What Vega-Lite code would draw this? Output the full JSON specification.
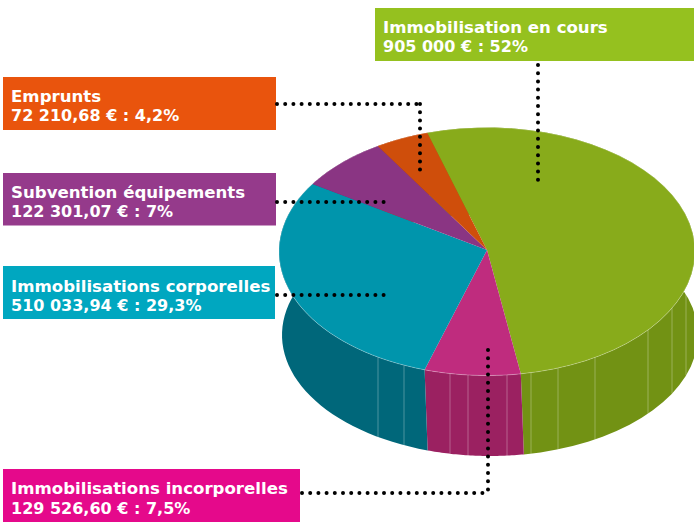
{
"$schema":"https://vega.github.io/schema/vega-lite/v6.json",
"width":694,"height":522,"padding":0,
"autosize":{"type":"fit","contains":"padding"},
"background":"white",
"view":{"stroke":null},
"config":{"text":{"align":"left","baseline":"alphabetic","font":"DejaVu Sans","fontSize":16.6,"fontWeight":700,"color":"white"},"rule":{"color":"black","strokeWidth":4,"strokeCap":"round","strokeDash":[0,8.2]}},
"datasets":{
"slices":[
{"slice":"Immobilisation en cours","order":1,"value":905000,"label":"905 000 € : 52%"},
{"slice":"Immobilisations incorporelles","order":2,"value":129526.60,"label":"129 526,60 € : 7,5%"},
{"slice":"Immobilisations corporelles","order":3,"value":510033.94,"label":"510 033,94 € : 29,3%"},
{"slice":"Subvention équipements","order":4,"value":122301.07,"label":"122 301,07 € : 7%"},
{"slice":"Emprunts","order":5,"value":72210.68,"label":"72 210,68 € : 4,2%"}
],
"seams":[{"seam":378},{"seam":404},{"seam":450},{"seam":468},{"seam":507},{"seam":531},{"seam":558},{"seam":595},{"seam":648},{"seam":672},{"seam":686}]
},
"encoding":{
"x":{"type":"quantitative","scale":{"domain":[0,694],"nice":false,"zero":false},"axis":null},
"y":{"type":"quantitative","scale":{"domain":[522,0],"nice":false,"zero":false},"axis":null}
},
"layer":[
{"data":{"name":"slices"},
 "transform":[
  {"joinaggregate":[{"op":"sum","field":"value","as":"total"}]},
  {"window":[{"op":"sum","field":"value","as":"cum"}],"sort":[{"field":"order","order":"ascending"}]},
  {"calculate":"sequence(-1,82)","as":"k"},
  {"flatten":["k"]},
  {"calculate":"datum.k<=40?datum.k:81-datum.k","as":"j"},
  {"calculate":"(-106.7+360*(datum.cum-datum.value+datum.value*datum.j/40)/datum.total)*PI/180","as":"t"},
  {"calculate":"datum.k<0?487:datum.k<=40?487+208*cos(datum.t):490+208*cos(datum.t)","as":"px"},
  {"calculate":"datum.k<0?250:datum.k<=40?251.5+124*sin(datum.t):335+121*sin(datum.t)","as":"py"}
 ],
 "resolve":{"scale":{"fill":"independent"}},
 "layer":[
  {"transform":[{"filter":"datum.k>=0"}],
   "mark":{"type":"line","strokeWidth":0,"clip":true},
   "encoding":{
    "x":{"field":"px"},"y":{"field":"py"},
    "order":{"field":"k"},
    "fill":{"field":"slice","type":"nominal","legend":null,"scale":{
     "domain":["Immobilisation en cours","Immobilisations incorporelles","Immobilisations corporelles","Subvention équipements","Emprunts"],
     "range":["#729214","#9B2161","#00677A","#6d2a68","#a83f09"]}}
   }},
  {"data":{"name":"seams"},
   "transform":[
    {"calculate":"251.5+124*sqrt(1-pow((datum.seam-487)/208,2))","as":"rimy"},
    {"calculate":"335+121*sqrt(1-pow((datum.seam-490)/208,2))","as":"rimb"}],
   "mark":{"type":"rule","stroke":"white","strokeOpacity":0.3,"strokeWidth":1,"strokeDash":[1,0],"strokeCap":"butt"},
   "encoding":{"x":{"field":"seam"},"y":{"field":"rimy"},"y2":{"field":"rimb"}}},
  {"transform":[{"filter":"datum.k<=40"}],
   "mark":{"type":"line","strokeWidth":0,"clip":true},
   "encoding":{
    "x":{"field":"px"},"y":{"field":"py"},
    "order":{"field":"k"},
    "fill":{"field":"slice","type":"nominal","legend":null,"scale":{
     "domain":["Immobilisation en cours","Immobilisations incorporelles","Immobilisations corporelles","Subvention équipements","Emprunts"],
     "range":["#88AB1B","#BF2C7E","#0095AC","#8A3583","#CF4E0B"]}}
   }},
  {"transform":[{"filter":"datum.k>=0 && datum.k<=40"}],
   "mark":{"type":"line","stroke":"white","strokeOpacity":0.35,"strokeWidth":0.8,"clip":true},
   "encoding":{
    "x":{"field":"px"},"y":{"field":"py"},
    "order":{"field":"k"},
    "detail":{"field":"slice"}
   }}
 ]},
{"data":{"name":"slices"},
 "layer":[
  {"transform":[{"filter":"datum.order==1"}],
   "layer":[
    {"mark":{"type":"rect","color":"#95C11F"},"encoding":{"x":{"datum":375},"x2":{"datum":694},"y":{"datum":8},"y2":{"datum":61}}},
    {"mark":{"type":"text"},"encoding":{"x":{"datum":383},"y":{"datum":33},"text":{"field":"slice"}}},
    {"mark":{"type":"text","fontSize":16},"encoding":{"x":{"datum":383},"y":{"datum":52},"text":{"field":"label"}}},
    {"mark":{"type":"rule"},"encoding":{"x":{"datum":538},"y":{"datum":65},"y2":{"datum":181}}}
   ]},
  {"transform":[{"filter":"datum.order==5"}],
   "layer":[
    {"mark":{"type":"rect","color":"#E9540D"},"encoding":{"x":{"datum":3},"x2":{"datum":276},"y":{"datum":77},"y2":{"datum":130}}},
    {"mark":{"type":"text"},"encoding":{"x":{"datum":11},"y":{"datum":102},"text":{"field":"slice"}}},
    {"mark":{"type":"text","fontSize":16},"encoding":{"x":{"datum":11},"y":{"datum":121},"text":{"field":"label"}}},
    {"mark":{"type":"rule"},"encoding":{"x":{"datum":277},"x2":{"datum":420},"y":{"datum":104}}},
    {"mark":{"type":"rule"},"encoding":{"x":{"datum":420},"y":{"datum":104},"y2":{"datum":170}}}
   ]},
  {"transform":[{"filter":"datum.order==4"}],
   "layer":[
    {"mark":{"type":"rect","color":"#953A8B"},"encoding":{"x":{"datum":3},"x2":{"datum":276},"y":{"datum":173},"y2":{"datum":225.5}}},
    {"mark":{"type":"text"},"encoding":{"x":{"datum":11},"y":{"datum":198},"text":{"field":"slice"}}},
    {"mark":{"type":"text","fontSize":16},"encoding":{"x":{"datum":11},"y":{"datum":217},"text":{"field":"label"}}},
    {"mark":{"type":"rule"},"encoding":{"x":{"datum":277},"x2":{"datum":385},"y":{"datum":202}}}
   ]},
  {"transform":[{"filter":"datum.order==3"}],
   "layer":[
    {"mark":{"type":"rect","color":"#00A7C0"},"encoding":{"x":{"datum":3},"x2":{"datum":275},"y":{"datum":266},"y2":{"datum":319}}},
    {"mark":{"type":"text"},"encoding":{"x":{"datum":11},"y":{"datum":292},"text":{"field":"slice"}}},
    {"mark":{"type":"text","fontSize":16},"encoding":{"x":{"datum":11},"y":{"datum":311},"text":{"field":"label"}}},
    {"mark":{"type":"rule"},"encoding":{"x":{"datum":277},"x2":{"datum":385},"y":{"datum":295}}}
   ]},
  {"transform":[{"filter":"datum.order==2"}],
   "layer":[
    {"mark":{"type":"rect","color":"#E5098B"},"encoding":{"x":{"datum":3},"x2":{"datum":300},"y":{"datum":469},"y2":{"datum":522}}},
    {"mark":{"type":"text"},"encoding":{"x":{"datum":11},"y":{"datum":494},"text":{"field":"slice"}}},
    {"mark":{"type":"text","fontSize":16},"encoding":{"x":{"datum":11},"y":{"datum":514},"text":{"field":"label"}}},
    {"mark":{"type":"rule"},"encoding":{"x":{"datum":302},"x2":{"datum":488},"y":{"datum":493}}},
    {"mark":{"type":"rule"},"encoding":{"x":{"datum":488},"y":{"datum":350},"y2":{"datum":493}}}
   ]}
 ]}
]
}
